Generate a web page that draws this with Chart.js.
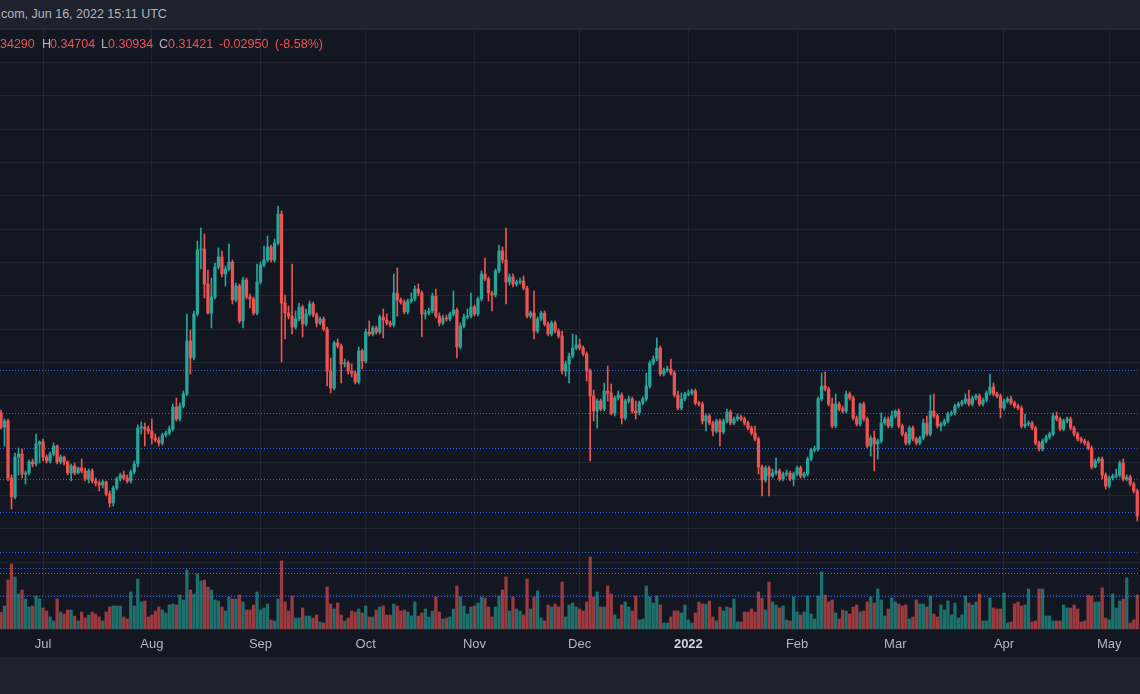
<!DOCTYPE html>
<html>
<head>
<meta charset="utf-8">
<script src="https://cdn.jsdelivr.net/npm/chart.js@4.4.0/dist/chart.umd.min.js"></script>
<style>
  html, body { margin: 0; padding: 0; background: #1e222d; }
  body { width: 1140px; height: 694px; overflow: hidden; position: relative; font-family: "Liberation Sans", Arial, sans-serif; }
  #top { position: absolute; left: 0; top: 0; width: 1140px; height: 29px; background: #1e222d; border-bottom: 1px solid #262a36; box-sizing: border-box; }
  #top span { position: absolute; left: 1px; top: 7px; font-size: 12.5px; color: #b2b5be; white-space: nowrap; }
  #wrap { position: absolute; left: 0; top: 29px; width: 1140px; height: 628px; background: #131722; }
  #ohlc span { position: absolute; top: 37px; font-size: 12.5px; white-space: nowrap; color: #ef5350; }
  #ohlc span.k { color: #b2b5be; }
</style>
</head>
<body>
<div id="top"><span>com, Jun 16, 2022 15:11 UTC</span></div>
<div id="wrap"><canvas id="myChart"></canvas></div>
<div id="ohlc">
  <span style="left:0px">34290</span>
  <span class="k" style="left:42px">H</span><span style="left:50px">0.34704</span>
  <span class="k" style="left:101px">L</span><span style="left:108px">0.30934</span>
  <span class="k" style="left:159px">C</span><span style="left:168px">0.31421</span>
  <span style="left:219px">-0.02950</span>
  <span style="left:275px">(-8.58%)</span>
</div>
<script>
// daily XRP candles, 19 Jun 2021 .. 9 May 2022 (visible part of the chart)
const open = [
  0.795,0.753,0.771,0.600,0.543,0.663,0.672,0.612,0.615,0.648,
  0.642,0.702,0.708,0.663,0.651,0.672,0.696,0.648,0.663,0.648,
  0.615,0.636,0.615,0.630,0.621,0.597,0.621,0.591,0.585,0.579,
  0.588,0.552,0.525,0.570,0.597,0.609,0.600,0.591,0.618,0.642,
  0.750,0.753,0.747,0.741,0.720,0.714,0.705,0.729,0.735,0.747,
  0.813,0.777,0.816,0.852,1.011,0.960,1.092,1.284,1.287,1.182,
  1.095,1.143,1.233,1.263,1.212,1.227,1.248,1.134,1.176,1.071,
  1.194,1.143,1.137,1.095,1.188,1.239,1.254,1.293,1.254,1.305,
  1.392,1.125,1.095,1.086,1.053,1.077,1.113,1.062,1.092,1.122,
  1.089,1.065,1.077,1.047,0.921,0.870,1.005,0.996,0.942,0.945,
  0.921,0.915,0.888,0.981,0.951,1.038,1.032,1.050,1.038,1.083,
  1.074,1.065,1.059,1.155,1.134,1.128,1.098,1.131,1.137,1.167,
  1.155,1.092,1.095,1.101,1.146,1.086,1.065,1.080,1.077,1.092,
  1.104,0.993,1.056,1.083,1.086,1.113,1.092,1.137,1.212,1.197,
  1.155,1.149,1.221,1.281,1.254,1.188,1.203,1.182,1.188,1.191,
  1.170,1.086,1.095,1.041,1.077,1.095,1.062,1.032,1.065,1.041,
  1.026,0.921,0.942,0.966,0.990,0.999,0.990,0.972,0.921,0.846,
  0.801,0.831,0.807,0.861,0.855,0.795,0.840,0.849,0.780,0.831,
  0.837,0.801,0.795,0.825,0.837,0.876,0.945,0.957,0.990,0.912,
  0.924,0.927,0.915,0.849,0.810,0.837,0.852,0.855,0.861,0.825,
  0.822,0.771,0.786,0.765,0.741,0.771,0.738,0.771,0.798,0.765,
  0.777,0.783,0.777,0.765,0.750,0.735,0.717,0.633,0.594,0.630,
  0.606,0.615,0.621,0.597,0.612,0.615,0.597,0.612,0.630,0.606,
  0.612,0.657,0.684,0.687,0.837,0.876,0.867,0.822,0.756,0.822,
  0.807,0.801,0.852,0.840,0.780,0.762,0.822,0.777,0.696,0.720,
  0.702,0.711,0.765,0.777,0.756,0.786,0.801,0.756,0.732,0.705,
  0.750,0.717,0.705,0.720,0.765,0.732,0.801,0.786,0.756,0.762,
  0.771,0.792,0.795,0.816,0.822,0.828,0.837,0.822,0.840,0.846,
  0.822,0.834,0.855,0.873,0.852,0.846,0.810,0.831,0.837,0.825,
  0.816,0.810,0.756,0.762,0.765,0.750,0.705,0.687,0.711,0.723,
  0.732,0.786,0.777,0.747,0.771,0.777,0.750,0.732,0.717,0.711,
  0.705,0.690,0.633,0.651,0.657,0.609,0.576,0.600,0.606,0.609,
  0.645,0.597,0.603,0.582,0.561
];
const high = [
  0.804,0.777,0.777,0.609,0.675,0.690,0.687,0.621,0.654,0.657,
  0.732,0.711,0.717,0.669,0.678,0.705,0.699,0.669,0.666,0.651,
  0.642,0.645,0.633,0.657,0.630,0.627,0.627,0.600,0.591,0.594,
  0.591,0.561,0.576,0.603,0.615,0.621,0.609,0.624,0.651,0.759,
  0.768,0.765,0.756,0.777,0.732,0.723,0.735,0.741,0.756,0.822,
  0.840,0.825,0.861,1.092,1.044,1.101,1.311,1.350,1.332,1.224,
  1.200,1.245,1.290,1.281,1.236,1.302,1.254,1.185,1.182,1.203,
  1.200,1.152,1.143,1.242,1.248,1.296,1.326,1.299,1.317,1.416,
  1.401,1.149,1.116,1.242,1.101,1.125,1.119,1.107,1.131,1.128,
  1.095,1.083,1.083,1.053,0.960,1.011,1.017,1.002,0.957,0.951,
  0.942,0.921,0.993,0.987,1.047,1.071,1.056,1.056,1.089,1.107,
  1.092,1.071,1.212,1.230,1.140,1.134,1.137,1.155,1.176,1.182,
  1.161,1.104,1.110,1.155,1.167,1.095,1.089,1.089,1.098,1.161,
  1.110,1.065,1.092,1.107,1.155,1.119,1.143,1.221,1.260,1.203,
  1.161,1.227,1.299,1.293,1.350,1.212,1.212,1.194,1.200,1.206,
  1.176,1.101,1.161,1.083,1.101,1.101,1.068,1.071,1.071,1.047,
  1.041,0.951,0.975,1.032,1.029,1.017,0.996,0.978,0.927,0.864,
  0.837,0.837,0.885,0.936,0.882,0.846,0.861,0.855,0.837,0.846,
  0.843,0.831,0.831,0.843,0.915,0.951,0.966,1.020,0.996,0.930,
  0.936,0.957,0.921,0.861,0.855,0.858,0.864,0.867,0.867,0.831,
  0.828,0.792,0.792,0.771,0.777,0.777,0.777,0.807,0.804,0.783,
  0.792,0.789,0.783,0.771,0.756,0.756,0.723,0.639,0.636,0.636,
  0.627,0.660,0.627,0.618,0.624,0.621,0.618,0.636,0.636,0.618,
  0.663,0.690,0.696,0.843,0.915,0.918,0.873,0.840,0.852,0.828,
  0.816,0.861,0.858,0.846,0.786,0.825,0.828,0.783,0.726,0.741,
  0.717,0.795,0.783,0.783,0.801,0.804,0.807,0.762,0.738,0.756,
  0.756,0.723,0.726,0.777,0.786,0.849,0.852,0.792,0.768,0.777,
  0.798,0.801,0.822,0.828,0.834,0.852,0.864,0.846,0.852,0.852,
  0.840,0.861,0.912,0.885,0.858,0.852,0.837,0.843,0.846,0.831,
  0.822,0.816,0.792,0.771,0.771,0.756,0.711,0.717,0.729,0.738,
  0.795,0.798,0.783,0.777,0.783,0.783,0.756,0.738,0.723,0.717,
  0.711,0.696,0.657,0.663,0.663,0.615,0.606,0.612,0.627,0.651,
  0.657,0.609,0.609,0.588,0.567
];
const low = [
  0.747,0.696,0.591,0.507,0.537,0.609,0.600,0.582,0.609,0.633,
  0.636,0.645,0.651,0.645,0.645,0.666,0.642,0.642,0.639,0.609,
  0.591,0.609,0.612,0.615,0.591,0.585,0.585,0.576,0.561,0.570,
  0.546,0.513,0.516,0.564,0.591,0.594,0.585,0.585,0.612,0.633,
  0.732,0.696,0.732,0.702,0.708,0.696,0.699,0.723,0.729,0.741,
  0.771,0.771,0.810,0.846,0.912,0.954,1.086,1.227,1.140,1.092,
  1.050,1.137,1.227,1.203,1.176,1.221,1.122,1.128,1.065,1.050,
  1.137,1.110,1.089,1.089,1.182,1.233,1.248,1.248,1.248,1.299,
  0.948,1.017,1.077,1.032,1.047,1.071,1.023,1.056,1.086,1.083,
  1.053,1.059,1.041,0.876,0.855,0.864,0.990,0.885,0.933,0.912,
  0.903,0.882,0.882,0.927,0.945,1.026,1.026,1.032,1.032,1.020,
  1.059,1.053,1.053,1.086,1.122,1.092,1.092,1.125,1.131,1.146,
  1.023,1.077,1.089,1.095,1.080,1.056,1.059,1.071,1.071,1.086,
  0.960,0.987,1.050,1.077,1.080,1.086,1.086,1.131,1.191,1.131,
  1.101,1.143,1.215,1.245,1.122,1.179,1.173,1.176,1.182,1.164,
  1.080,1.080,1.017,1.035,1.071,1.056,1.026,1.026,1.035,1.020,
  0.912,0.906,0.885,0.960,0.984,0.984,0.966,0.891,0.651,0.771,
  0.750,0.801,0.801,0.831,0.789,0.786,0.834,0.762,0.774,0.825,
  0.795,0.777,0.789,0.819,0.831,0.870,0.939,0.951,0.906,0.906,
  0.918,0.909,0.843,0.804,0.804,0.831,0.846,0.849,0.819,0.816,
  0.762,0.741,0.759,0.726,0.735,0.696,0.732,0.765,0.759,0.759,
  0.771,0.771,0.759,0.744,0.729,0.711,0.612,0.546,0.588,0.546,
  0.600,0.609,0.591,0.591,0.606,0.591,0.576,0.606,0.600,0.600,
  0.606,0.651,0.678,0.681,0.831,0.861,0.816,0.750,0.750,0.801,
  0.795,0.795,0.834,0.774,0.756,0.756,0.771,0.690,0.666,0.621,
  0.657,0.705,0.759,0.750,0.750,0.780,0.750,0.726,0.699,0.699,
  0.711,0.699,0.699,0.714,0.726,0.726,0.780,0.750,0.741,0.756,
  0.765,0.786,0.789,0.810,0.816,0.822,0.816,0.816,0.834,0.816,
  0.816,0.828,0.849,0.846,0.840,0.780,0.804,0.825,0.819,0.810,
  0.804,0.750,0.750,0.756,0.744,0.699,0.681,0.681,0.705,0.717,
  0.726,0.771,0.741,0.741,0.765,0.744,0.726,0.711,0.705,0.699,
  0.684,0.627,0.630,0.645,0.597,0.567,0.570,0.594,0.600,0.603,
  0.591,0.591,0.576,0.555,0.471
];
const close = [
  0.753,0.771,0.600,0.543,0.663,0.672,0.612,0.615,0.648,0.642,
  0.702,0.708,0.663,0.651,0.672,0.696,0.648,0.663,0.648,0.615,
  0.636,0.615,0.630,0.621,0.597,0.621,0.591,0.585,0.579,0.588,
  0.552,0.525,0.570,0.597,0.609,0.600,0.591,0.618,0.642,0.750,
  0.753,0.747,0.741,0.720,0.714,0.705,0.729,0.735,0.747,0.813,
  0.777,0.816,0.852,1.011,0.960,1.092,1.284,1.287,1.182,1.095,
  1.143,1.233,1.263,1.212,1.227,1.248,1.134,1.176,1.071,1.194,
  1.143,1.137,1.095,1.188,1.239,1.254,1.293,1.254,1.305,1.392,
  1.125,1.095,1.086,1.053,1.077,1.113,1.062,1.092,1.122,1.089,
  1.065,1.077,1.047,0.921,0.870,1.005,0.996,0.942,0.945,0.921,
  0.915,0.888,0.981,0.951,1.038,1.032,1.050,1.038,1.083,1.074,
  1.065,1.059,1.155,1.134,1.128,1.098,1.131,1.137,1.167,1.155,
  1.092,1.095,1.101,1.146,1.086,1.065,1.080,1.077,1.092,1.104,
  0.993,1.056,1.083,1.086,1.113,1.092,1.137,1.212,1.197,1.155,
  1.149,1.221,1.281,1.254,1.188,1.203,1.182,1.188,1.191,1.170,
  1.086,1.095,1.041,1.077,1.095,1.062,1.032,1.065,1.041,1.026,
  0.921,0.942,0.966,0.990,0.999,0.990,0.972,0.921,0.846,0.801,
  0.831,0.807,0.861,0.855,0.795,0.840,0.849,0.780,0.831,0.837,
  0.801,0.795,0.825,0.837,0.876,0.945,0.957,0.990,0.912,0.924,
  0.927,0.915,0.849,0.810,0.837,0.852,0.855,0.861,0.825,0.822,
  0.771,0.786,0.765,0.741,0.771,0.738,0.771,0.798,0.765,0.777,
  0.783,0.777,0.765,0.750,0.735,0.717,0.633,0.594,0.630,0.606,
  0.615,0.621,0.597,0.612,0.615,0.597,0.612,0.630,0.606,0.612,
  0.657,0.684,0.687,0.837,0.876,0.867,0.822,0.756,0.822,0.807,
  0.801,0.852,0.840,0.780,0.762,0.822,0.777,0.696,0.720,0.702,
  0.711,0.765,0.777,0.756,0.786,0.801,0.756,0.732,0.705,0.750,
  0.717,0.705,0.720,0.765,0.732,0.801,0.786,0.756,0.762,0.771,
  0.792,0.795,0.816,0.822,0.828,0.837,0.822,0.840,0.846,0.822,
  0.834,0.855,0.873,0.852,0.846,0.810,0.831,0.837,0.825,0.816,
  0.810,0.756,0.762,0.765,0.750,0.705,0.687,0.711,0.723,0.732,
  0.786,0.777,0.747,0.771,0.777,0.750,0.732,0.717,0.711,0.705,
  0.690,0.633,0.651,0.657,0.609,0.576,0.600,0.606,0.609,0.645,
  0.597,0.603,0.582,0.561,0.486
];
// volume in millions
const volume = [
  167,230,490,650,520,350,390,300,220,230,
  330,300,210,180,120,80,300,170,150,190,
  190,130,80,170,110,140,170,150,120,80,
  170,220,230,230,230,120,100,370,230,500,
  270,280,120,140,180,220,190,160,240,250,
  240,340,290,590,390,350,550,480,490,420,
  390,290,280,220,180,320,300,300,340,270,
  190,190,240,370,190,210,250,90,80,300,
  680,270,180,330,110,110,210,130,130,110,
  140,70,60,420,250,200,260,140,80,110,
  180,170,200,160,230,120,120,190,220,230,
  140,140,250,230,180,190,170,130,270,130,
  160,200,120,180,320,170,100,110,120,200,
  430,320,230,150,220,230,260,320,310,220,
  120,220,330,390,520,180,320,200,180,140,
  500,200,320,380,110,80,240,220,250,220,
  470,120,240,260,220,200,180,270,720,320,
  370,220,220,430,350,140,100,240,270,220,
  180,330,90,100,430,320,260,330,240,60,
  60,120,180,180,160,240,90,60,160,270,
  250,250,280,120,80,220,180,220,210,300,
  70,70,170,170,200,170,370,310,190,470,
  270,240,210,230,90,80,320,170,140,170,
  330,150,100,330,570,340,270,290,160,100,
  190,180,150,220,240,170,180,270,320,260,
  400,290,130,200,310,270,250,230,240,100,
  120,290,250,250,220,330,150,120,240,190,
  280,140,260,110,140,330,260,240,270,350,
  80,80,310,210,200,200,360,60,70,250,
  270,230,240,400,70,80,400,400,130,130,
  80,80,80,240,210,210,240,200,70,80,
  340,330,270,270,410,110,90,350,210,280,
  300,510,60,90,340
];

// day index of the first of each month (day 0 = 19 Jun 2021)
const monthTicks = [12, 43, 74, 104, 135, 165, 196, 227, 255, 286, 316];
const monthLabels = ['Jul', 'Aug', 'Sep', 'Oct', 'Nov', 'Dec', '2022', 'Feb', 'Mar', 'Apr', 'May'];

// horizontal levels drawn on the chart
const levels = [0.924, 0.795, 0.690, 0.597, 0.498, 0.378, 0.330, 0.246];
const lastPrice = 0.31421;

const upColor = '#26a69a';
const downColor = '#ef5350';
const isUp = close.map((c, i) => c >= open[i]);

const levelLines = {
    id: 'levelLines',
    beforeDatasetsDraw(chart) {
        const { ctx, chartArea, scales } = chart;
        ctx.save();
        ctx.lineWidth = 1;
        ctx.setLineDash([1, 2]);
        levels.forEach(p => {
            const y = Math.round(scales.y.getPixelForValue(p)) + 0.5;
            ctx.strokeStyle = 'rgba(56, 104, 255, 0.9)';
            ctx.beginPath();
            ctx.moveTo(chartArea.left, y);
            ctx.lineTo(chartArea.right, y);
            ctx.stroke();
        });
        const yl = Math.round(scales.y.getPixelForValue(lastPrice)) + 0.5;
        ctx.strokeStyle = 'rgba(239, 83, 80, 0.85)';
        ctx.beginPath();
        ctx.moveTo(chartArea.left, yl);
        ctx.lineTo(chartArea.right, yl);
        ctx.stroke();
        ctx.restore();
    }
};

let ctx = document.getElementById('myChart').getContext('2d');
let chart = new Chart(ctx, {
    type: 'bar',
    data: {
        datasets: [{
            label: 'Volume',
            yAxisID: 'yv',
            data: volume.map((v, i) => ({ x: i, y: v })),
            backgroundColor: volume.map((v, i) => isUp[i] ? 'rgba(38,166,154,0.62)' : 'rgba(239,83,80,0.62)'),
            barThickness: 2.6,
            grouped: false,
            order: 3
        }, {
            label: 'Wick',
            data: close.map((c, i) => ({ x: i, y: [low[i], high[i]] })),
            backgroundColor: close.map((c, i) => isUp[i] ? upColor : downColor),
            barThickness: 1,
            grouped: false,
            order: 2
        }, {
            label: 'Body',
            data: close.map((c, i) => ({ x: i, y: [open[i], c] })),
            backgroundColor: close.map((c, i) => isUp[i] ? upColor : downColor),
            barThickness: 2.6,
            minBarLength: 1,
            grouped: false,
            order: 1
        }]
    },
    options: {
        responsive: true,
        maintainAspectRatio: false,
        animation: false,
        layout: { padding: 0 },
        plugins: { legend: { display: false }, tooltip: { enabled: false } },
        scales: {
            x: {
                type: 'linear',
                min: -0.285,
                max: 324.78,
                offset: false,
                afterBuildTicks: ax => { ax.ticks = monthTicks.map(v => ({ value: v })); },
                afterFit: ax => { ax.height = 28; },
                grid: { color: 'rgba(42, 46, 57, 0.6)', drawTicks: false, offset: false },
                border: { display: false },
                ticks: {
                    autoSkip: false,
                    maxRotation: 0,
                    padding: 8,
                    callback: (v) => monthLabels[monthTicks.indexOf(v)],
                    color: c => (c.tick && c.tick.value === 196) ? '#d1d4dc' : '#b2b5be',
                    font: c => ({
                        family: '"Liberation Sans", Arial, sans-serif',
                        size: 13,
                        weight: (c.tick && c.tick.value === 196) ? 'bold' : 'normal'
                    })
                }
            },
            y: {
                position: 'left',
                min: 0.147,
                max: 1.947,
                afterFit: ax => { ax.width = 0; },
                ticks: { display: false, stepSize: 0.1, includeBounds: false },
                grid: { color: 'rgba(42, 46, 57, 0.6)', drawTicks: false },
                border: { display: false }
            },
            yv: {
                display: false,
                min: 0,
                max: 6000
            }
        }
    },
    plugins: [levelLines]
});
</script>
</body>
</html>
